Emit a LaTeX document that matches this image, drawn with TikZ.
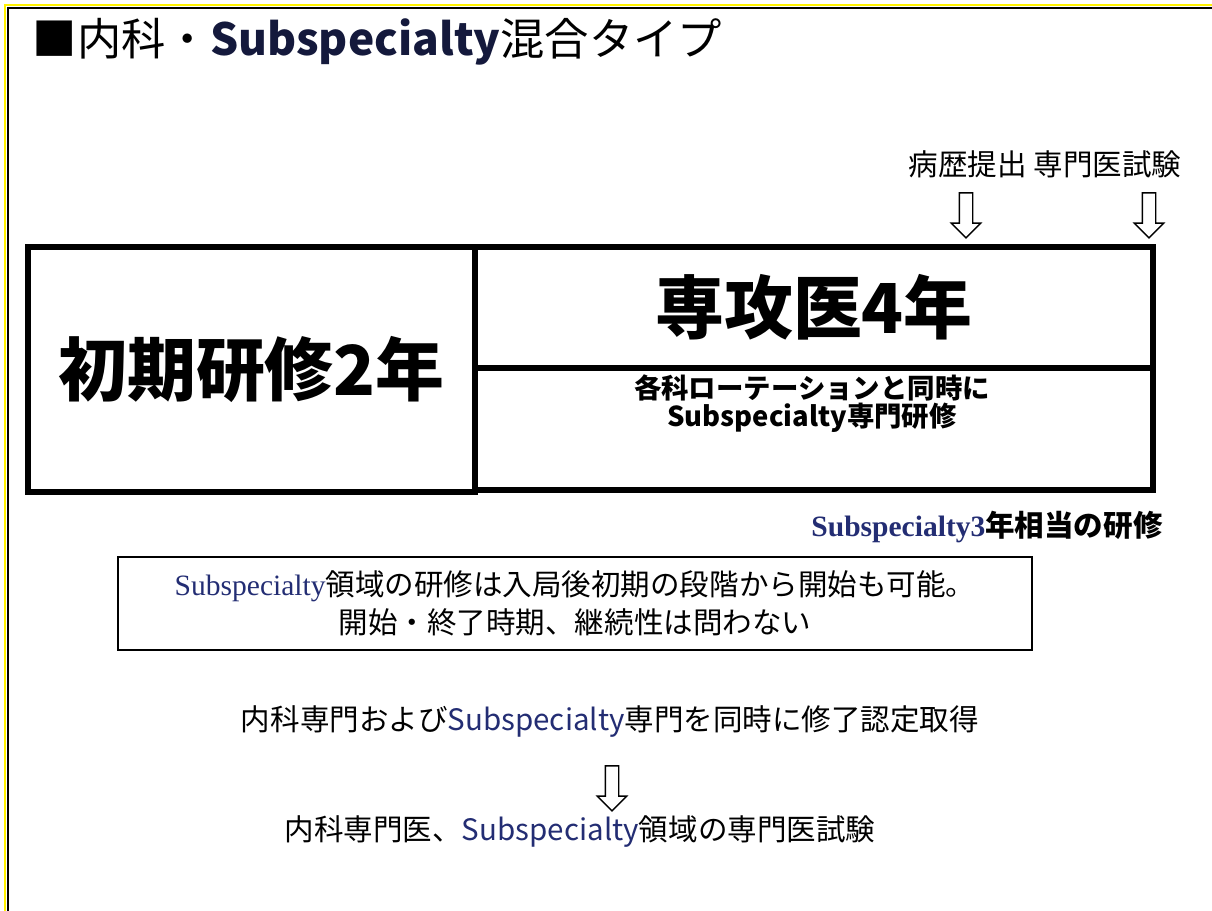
\documentclass[tikz,border=0pt]{standalone}
\usepackage{fontspec}
\setmainfont{Noto Sans CJK JP}
\newfontfamily\tms{Liberation Serif}
\usetikzlibrary{shapes.arrows}
\definecolor{subblue}{RGB}{35,45,115}
\definecolor{subdark}{RGB}{20,25,60}
\tikzstyle{frame} = [draw, line width=4pt]
\tikzstyle{bigtext} = [font=\fontsize{49}{58}\selectfont\bfseries]
\tikzstyle{midtext} = [align=center, font=\fontsize{19.5}{20}\selectfont\bfseries]
\tikzstyle{note} = [draw, line width=1.2pt, align=center, font=\fontsize{21}{27}\selectfont]
\tikzstyle{plain} = [font=\fontsize{21}{27}\selectfont]
\tikzstyle{hollow} = [single arrow, draw, line width=1pt, fill=white, rotate=-90, minimum height=1.125cm, inner xsep=0pt, inner ysep=0.15cm, single arrow head extend=0.2cm]

\begin{document}
\begin{tikzpicture}[x=0.025cm, y=-0.025cm]
            \useasboundingbox (0,0) rectangle (1212,911);
            % page frame
            \draw [yellow, line width=1.4pt] (5.2,911) -- (5.2,5.2) -- (1212,5.2);
            \draw [black, line width=1.6pt] (7.8,911) -- (7.8,7.8) -- (1212,7.8);

            \node [anchor=west, font=\fontsize{31.5}{36}\selectfont] (title) at (28,42) {■内科・{\bfseries\color{subdark}Subspecialty}混合タイプ};

            \node [plain] (teishutsu) at (1045,164) {病歴提出 専門医試験};
            \node [hollow] (ya1) at (966,212) {};
            \node [hollow] (ya2) at (1149,212) {};

            \node [frame, bigtext, minimum width=11.175cm, minimum height=6.125cm] (shoki) at (251.5,369.5) {初期研修2年};
            \node [frame, bigtext, minimum width=16.95cm, minimum height=3.025cm] (senkoi) at (814,307.5) {専攻医4年};
            \node [frame, minimum width=16.95cm, minimum height=3.05cm] (rotation) at (814,429) {};
            \node [midtext] (rottext) at (812,404) {各科ローテーションと同時に\\Subspecialty専門研修};

            \node [font=\fontsize{21}{24}\selectfont\bfseries] (sub3) at (987,527) {{\tms\color{subblue}Subspecialty3}年相当の研修};

            \node [note, minimum width=22.85cm, minimum height=2.325cm] (kenshu) at (575,603.5) {{\tms\color{subblue}Subspecialty}領域の研修は入局後初期の段階から開始も可能。\\開始・終了時期、継続性は問わない};

            \node [plain] (shuryo) at (610,722) {内科専門および{\color{subblue}Subspecialty}専門を同時に修了認定取得};
            \node [hollow] (ya3) at (612,785) {};
            \node [plain] (shiken) at (580,832) {内科専門医、{\color{subblue}Subspecialty}領域の専門医試験};
\end{tikzpicture}
\end{document}
